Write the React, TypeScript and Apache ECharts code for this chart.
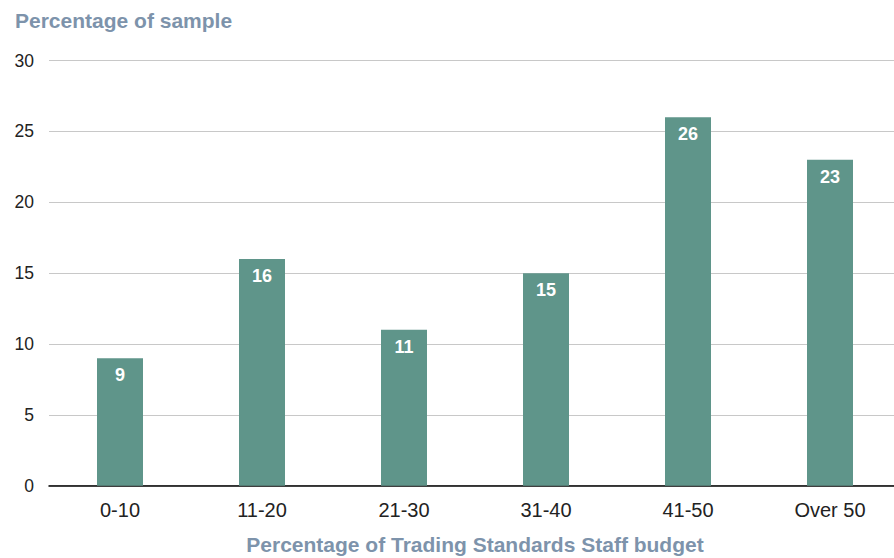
import React, { useEffect, useRef } from "react";
import * as echarts from "echarts";

const categories = ["0-10", "11-20", "21-30", "31-40", "41-50", "Over 50"];
const values = [9, 16, 11, 15, 26, 23];
const yTicks = { min: 0, max: 30, interval: 5 };
const yTitle = "Percentage of sample";
const xTitle = "Percentage of Trading Standards Staff budget";

const FONT = "'Liberation Sans', Arial, Helvetica, sans-serif";
const TITLE_COLOR = "#7d93ab";
const BAR_COLOR = "#5f958a";

export default function App() {
  const ref = useRef<HTMLDivElement>(null);
  useEffect(() => {
    if (!ref.current) return;
    const chart = echarts.init(ref.current, undefined, { renderer: "svg" });
    chart.setOption({
      animation: false,
      backgroundColor: "#ffffff",
      textStyle: { fontFamily: FONT },
      title: {
        text: yTitle,
        left: 10,
        top: 5,
        textStyle: { fontFamily: FONT, fontSize: 21, fontWeight: "bold", color: TITLE_COLOR },
      },
      grid: {
        left: 49,
        top: 60.6,
        width: 852,
        bottom: 72.3,
        containLabel: false,
        outerBoundsMode: "none",
      },
      xAxis: {
        type: "category",
        data: categories,
        name: xTitle,
        nameLocation: "middle",
        nameGap: 48.5,
        nameTextStyle: { fontFamily: FONT, fontSize: 21, fontWeight: "bold", color: TITLE_COLOR },
        axisLine: { show: true, lineStyle: { color: "#000000", width: 1.5 } },
        axisTick: { show: false },
        axisLabel: { fontFamily: FONT, fontSize: 20, color: "#222222", margin: 14 },
      },
      yAxis: {
        type: "value",
        min: yTicks.min,
        max: yTicks.max,
        interval: yTicks.interval,
        axisLine: { show: false },
        axisTick: { show: false },
        axisLabel: { fontFamily: FONT, fontSize: 17.5, color: "#222222", margin: 15 },
        splitLine: { show: true, lineStyle: { color: "#c8c8c8", width: 1 } },
      },
      series: [
        {
          type: "bar",
          data: values,
          barWidth: 46,
          itemStyle: { color: BAR_COLOR },
          label: {
            show: true,
            position: "insideTop",
            distance: 8,
            color: "#ffffff",
            fontFamily: FONT,
            fontSize: 18,
            fontWeight: "bold",
          },
        },
      ],
    });
    return () => chart.dispose();
  }, []);
  return <div ref={ref} style={{ width: 894, height: 558, position: "absolute", left: 0, top: 0 }} />;
}
